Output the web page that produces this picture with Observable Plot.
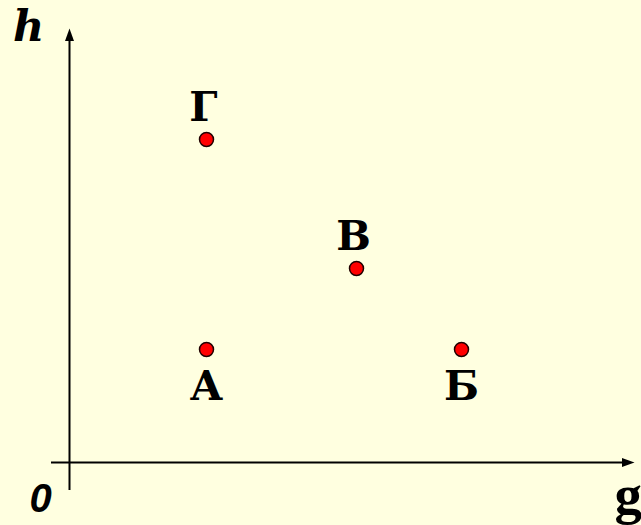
<!DOCTYPE html>
<html>
<head>
<meta charset="utf-8">
<script src="https://cdn.jsdelivr.net/npm/d3@7"></script>
<script src="https://cdn.jsdelivr.net/npm/@observablehq/plot@0.6"></script>
<style>
  html, body { margin: 0; padding: 0; background: #ffffe0; overflow: hidden; }
</style>
</head>
<body>
<div id="chart"></div>
<script>
// Data
const names   = ["А", "Б", "В", "Г"];
const gValues = [2.74, 7.84, 5.74, 2.74];
const hValues = [2.26, 2.26, 3.88, 6.46];
const labelAbove = ["Г", "В"];

const points = names.map((n, i) => ({name: n, g: gValues[i], h: hValues[i]}));

const W = 641, H = 525;
const unit = 50, ox = 69, oy = 462;
const xDomain = [-ox / unit, (W - ox) / unit];
const yDomain = [-(H - oy) / unit, oy / unit];

// axis extents (in data units)
const gAxis = [-0.36, 11.3];
const hAxis = [-0.56, 8.68];

const LETTER = "DejaVu Serif";
const SANS = "Liberation Sans";
const SERIF = "Liberation Serif";

// elongated arrow head, tip at origin pointing up
const arrowHead = {
  draw(ctx) {
    ctx.moveTo(0, 0);
    ctx.lineTo(4.5, 12.5);
    ctx.lineTo(-4.5, 12.5);
    ctx.closePath();
  }
};

const chart = Plot.plot({
  width: W,
  height: H,
  margin: 0,
  x: {domain: xDomain, axis: null},
  y: {domain: yDomain, axis: null},
  style: {background: "#ffffe0", overflow: "visible"},
  marks: [
    Plot.ruleY([0], {x1: gAxis[0], x2: gAxis[1] - 0.2, stroke: "black", strokeWidth: 2}),
    Plot.ruleX([0], {y1: hAxis[0], y2: hAxis[1] - 0.2, stroke: "black", strokeWidth: 2}),
    Plot.dot([{x: gAxis[1], y: 0, r: 90}, {x: 0, y: hAxis[1], r: 0}], {
      x: "x", y: "y", rotate: "r", symbol: arrowHead, r: 5, fill: "black", stroke: "none"
    }),
    Plot.dot(points, {x: "g", y: "h", r: 7, fill: "#ff0000", stroke: "#200000", strokeWidth: 1.5}),
    Plot.text(points.filter(d => labelAbove.includes(d.name)), {
      x: "g", y: "h", text: "name", dy: -32, dx: -3,
      fontFamily: LETTER, fontWeight: "bold", fontSize: 41, fill: "black", lineAnchor: "middle"
    }),
    Plot.text(points.filter(d => !labelAbove.includes(d.name)), {
      x: "g", y: "h", text: "name", dy: 37, dx: 0,
      fontFamily: LETTER, fontWeight: "bold", fontSize: 41, fill: "black", lineAnchor: "middle"
    }),
    Plot.text(["h"], {
      frameAnchor: "top-left", text: d => d, dx: 28, dy: 27,
      fontFamily: LETTER, fontWeight: "bold", fontStyle: "italic", fontSize: 43, fill: "black",
      textAnchor: "middle", lineAnchor: "middle"
    }),
    Plot.text([{x: 0, y: 0}], {
      x: "x", y: "y", text: () => "0", dx: -29, dy: 37,
      fontFamily: SANS, fontWeight: "bold", fontStyle: "italic", fontSize: 40, fill: "black",
      lineAnchor: "middle"
    }),
    Plot.text(["g"], {
      frameAnchor: "bottom-right", text: d => d, dx: -27, dy: -30,
      fontFamily: SERIF, fontWeight: "bold", fontSize: 55, fill: "black",
      textAnchor: "start", lineAnchor: "middle"
    })
  ]
});

document.getElementById("chart").appendChild(chart);
</script>
</body>
</html>
